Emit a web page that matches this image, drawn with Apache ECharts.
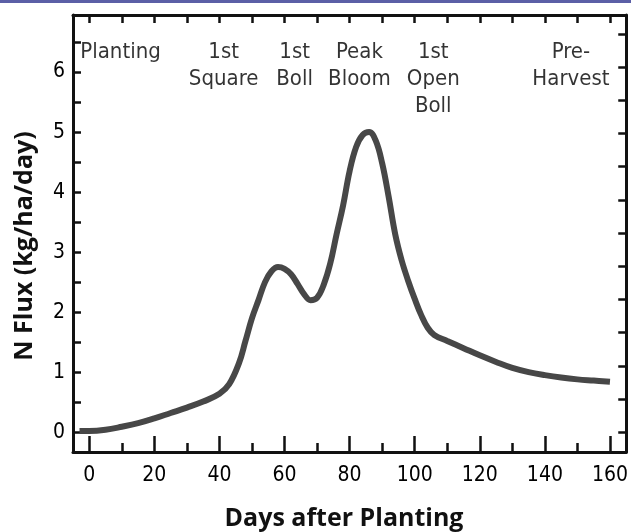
<!DOCTYPE html>
<html>
<head>
<meta charset="utf-8">
<script src="https://cdn.jsdelivr.net/npm/echarts@6/dist/echarts.min.js"></script>
<style>html,body{margin:0;padding:0;background:#fff}#c{width:631px;height:532px}</style>
</head>
<body>
<div id="c"></div>
<script>
// Data
const days = [-3, 0, 5, 10, 15, 20, 25, 30, 35, 40, 43, 46, 48, 50, 52, 54, 56, 58, 60, 62, 64, 66, 68, 70, 72, 74, 76, 78, 80, 82, 84, 86, 88, 90, 92, 94, 96, 98, 100, 102, 104, 106, 110, 115, 120, 125, 130, 135, 140, 145, 150, 155, 160];
const flux = [0.02, 0.02, 0.04, 0.09, 0.15, 0.23, 0.32, 0.41, 0.51, 0.64, 0.8, 1.15, 1.52, 1.9, 2.2, 2.5, 2.68, 2.75, 2.72, 2.63, 2.47, 2.3, 2.2, 2.24, 2.45, 2.8, 3.3, 3.78, 4.35, 4.75, 4.95, 5.0, 4.86, 4.48, 3.92, 3.3, 2.86, 2.52, 2.22, 1.95, 1.74, 1.62, 1.52, 1.4, 1.28, 1.17, 1.07, 1.0, 0.95, 0.91, 0.88, 0.86, 0.84];

const xMajorTicks = [0, 20, 40, 60, 80, 100, 120, 140, 160];
const xMinorTicks = [10, 30, 50, 70, 90, 110, 130, 150];
const xTopTicks = [0, 10, 20, 30, 40, 50, 60, 70, 80, 90, 100, 110, 120, 130, 140, 150, 160];
const yLabels = [0, 1, 2, 3, 4, 5, 6];
const yTicks = [0, 0.5, 1, 1.5, 2, 2.5, 3, 3.5, 4, 4.5, 5, 5.5, 6, 6.5];
const yRightTicks = [0, 0.553, 1.106, 1.659, 2.212, 2.765, 3.318, 3.871, 4.424, 4.977, 5.53, 6.083, 6.636];

const stageDays = [9.6, 41.3, 63.1, 83, 105.7, 148];
const stageText = ['Planting', '1st\nSquare', '1st\nBoll', 'Peak\nBloom', '1st\nOpen\nBoll', 'Pre-\nHarvest'];
const stageTop = 6.55;

const X_MIN = -5, X_MAX = 165, Y_MIN = -0.33, Y_MAX = 6.95;
const tickFont = '"DejaVu Sans Condensed", "Liberation Sans", sans-serif';
const axisCol = '#111';

const chart = echarts.init(document.getElementById('c'), null, {renderer: 'canvas'});
const lineData = days.map((d, i) => [d, flux[i]]);
const stageData = stageDays.map((d, i) => [d, stageTop, stageText[i]]);

chart.setOption({
  animation: false,
  backgroundColor: '#ffffff',
  grid: {left: 73, right: 4, top: 15, bottom: 80, containLabel: false},
  xAxis: [
    {
      type: 'value', position: 'bottom', min: X_MIN, max: X_MAX,
      axisLine: {show: true, onZero: false, lineStyle: {color: axisCol, width: 3}},
      axisTick: {show: true, inside: true, length: 16, customValues: xMajorTicks, lineStyle: {color: axisCol, width: 2.5}},
      axisLabel: {show: true, customValues: xMajorTicks, margin: 13, fontFamily: tickFont, fontSize: 21, color: '#000'},
      splitLine: {show: false}
    },
    {
      type: 'value', position: 'bottom', min: X_MIN, max: X_MAX,
      axisLine: {show: false, onZero: false},
      axisTick: {show: true, inside: true, length: 9, customValues: xMinorTicks, lineStyle: {color: axisCol, width: 2.5}},
      axisLabel: {show: false},
      splitLine: {show: false}
    },
    {
      type: 'value', position: 'top', min: X_MIN, max: X_MAX,
      axisLine: {show: true, onZero: false, lineStyle: {color: axisCol, width: 3}},
      axisTick: {show: true, inside: true, length: 8, customValues: xTopTicks, lineStyle: {color: axisCol, width: 2.5}},
      axisLabel: {show: false},
      splitLine: {show: false}
    }
  ],
  yAxis: [
    {
      type: 'value', position: 'left', min: Y_MIN, max: Y_MAX,
      axisLine: {show: true, onZero: false, lineStyle: {color: axisCol, width: 3}},
      axisTick: {show: true, inside: true, length: 8, customValues: yTicks, lineStyle: {color: axisCol, width: 2.5}},
      axisLabel: {show: true, customValues: yLabels, margin: 8, fontFamily: tickFont, fontSize: 21, color: '#000'},
      splitLine: {show: false}
    },
    {
      type: 'value', position: 'right', min: Y_MIN, max: Y_MAX,
      axisLine: {show: true, onZero: false, lineStyle: {color: axisCol, width: 3}},
      axisTick: {show: true, inside: true, length: 8, customValues: yRightTicks, lineStyle: {color: axisCol, width: 2.5}},
      axisLabel: {show: false},
      splitLine: {show: false}
    }
  ],
  series: [
    {
      type: 'line', xAxisIndex: 0, yAxisIndex: 0,
      data: lineData, smooth: 0.4, showSymbol: false, symbol: 'none',
      lineStyle: {color: '#474747', width: 6}, z: 5
    },
    {
      type: 'scatter', xAxisIndex: 0, yAxisIndex: 0, silent: true,
      data: stageData, symbolSize: 0,
      label: {
        show: true, position: [0, 0], align: 'center', verticalAlign: 'top',
        formatter: p => p.data[2],
        fontFamily: tickFont, fontSize: 22, lineHeight: 27, color: '#000'
      },
      z: 6
    }
  ],
  graphic: [
    {type: 'rect', left: 0, top: 0, shape: {width: 631, height: 3}, style: {fill: '#5b5fa6'}},
    {
      type: 'text', x: 25, y: 246, rotation: Math.PI / 2,
      style: {text: 'N Flux (kg/ha/day)', fontFamily: '"Open Sans", sans-serif', fontWeight: 'bold', fontSize: 25, fill: '#111', align: 'center', verticalAlign: 'middle'}
    },
    {
      type: 'text', x: 344, y: 519,
      style: {text: 'Days after Planting', fontFamily: '"Open Sans", sans-serif', fontWeight: 'bold', fontSize: 25, fill: '#111', align: 'center', verticalAlign: 'middle'}
    }
  ]
});
</script>
</body>
</html>
